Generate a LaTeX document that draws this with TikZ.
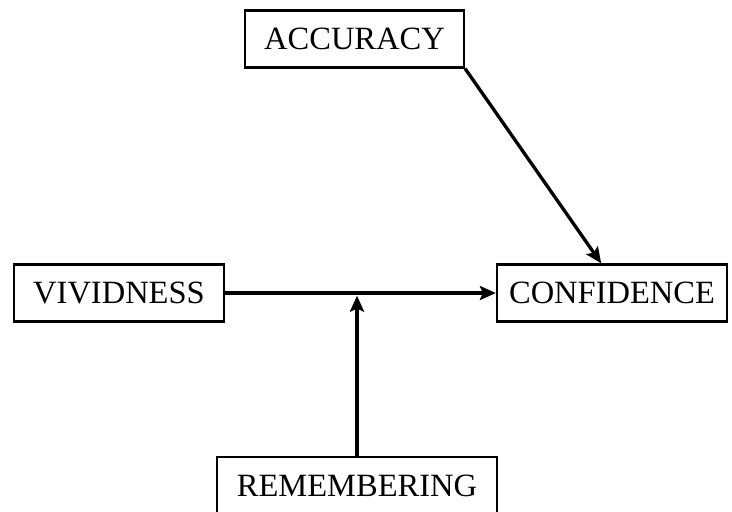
\documentclass[tikz,border=0pt]{standalone}
\usepackage{fontspec}
\setmainfont{Liberation Serif}
\usetikzlibrary{arrows.meta}

\begin{document}
\begin{tikzpicture}[
    x=0.02cm, y=-0.02cm,
    every node/.style={font=\fontsize{18.5}{21}\selectfont},
    box/.style={draw, line width=1.3pt, minimum height=1.14cm, inner sep=0pt, align=center},
    arr/.style={-{Stealth[length=3.2mm, width=2.8mm, inset=0.6mm]}, line width=1.9pt}
]
\useasboundingbox (0,0) rectangle (732,511);

\node[box, minimum width=4.38cm] (acc) at (354.5,39) {ACCURACY};
\node[box, minimum width=4.2cm] (viv) at (119,293) {VIVIDNESS};
\node[box, minimum width=4.6cm] (conf) at (612,293) {CONFIDENCE};
\node[box, minimum width=5.6cm] (rem) at (357,485.5) {REMEMBERING};

\draw[arr] (viv) -- (conf);
\draw[arr, shorten >=1.5pt] (rem) -- (rem |- viv.east);
\draw[arr] (acc.south east) -- (conf.110);
\end{tikzpicture}
\end{document}
